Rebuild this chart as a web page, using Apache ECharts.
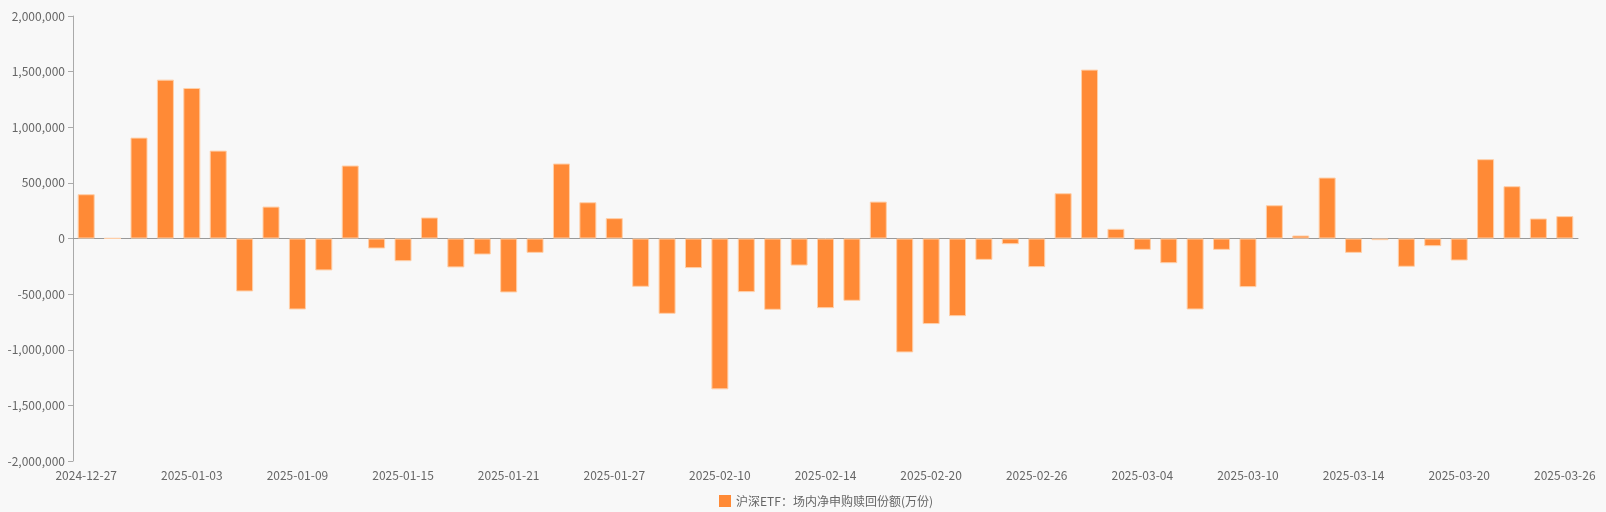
<!DOCTYPE html>
<html>
<head>
<meta charset="utf-8">
<script src="https://cdn.jsdelivr.net/npm/echarts@6/dist/echarts.min.js"></script>
<style>
html,body{margin:0;padding:0;background:#f8f8f8;}
#chart{width:1606px;height:512px;}
</style>
</head>
<body>
<div id="chart"></div>
<script>
const categories = ["2024-12-27","2024-12-30","2024-12-31","2025-01-02","2025-01-03","2025-01-06","2025-01-07","2025-01-08","2025-01-09","2025-01-10","2025-01-13","2025-01-14","2025-01-15","2025-01-16","2025-01-17","2025-01-20","2025-01-21","2025-01-22","2025-01-23","2025-01-24","2025-01-27","2025-02-05","2025-02-06","2025-02-07","2025-02-10","2025-02-11","2025-02-12","2025-02-13","2025-02-14","2025-02-17","2025-02-18","2025-02-19","2025-02-20","2025-02-21","2025-02-24","2025-02-25","2025-02-26","2025-02-27","2025-02-28","2025-03-03","2025-03-04","2025-03-05","2025-03-06","2025-03-07","2025-03-10","2025-03-11","2025-03-12","2025-03-13","2025-03-14","2025-03-17","2025-03-18","2025-03-19","2025-03-20","2025-03-21","2025-03-24","2025-03-25","2025-03-26"];
const seriesName = "沪深ETF：场内净申购赎回份额(万份)";
const values = [398000,2000,907000,1428000,1353000,790000,-476000,287000,-638000,-287000,656000,-90000,-204000,189000,-260000,-144000,-485000,-129000,674000,326000,183000,-434000,-677000,-266000,-1356000,-482000,-641000,-243000,-626000,-560000,332000,-1024000,-769000,-698000,-192000,-51000,-257000,407000,1518000,87000,-102000,-222000,-638000,-102000,-437000,299000,27000,548000,-129000,-15000,-254000,-69000,-198000,713000,470000,180000,201000];
const yMin = -2000000, yMax = 2000000, yInterval = 500000;

const font = '"Noto Sans CJK SC","Noto Sans",sans-serif';
const chart = echarts.init(document.getElementById('chart'), null, {renderer:'canvas'});
chart.setOption({
  backgroundColor: '#f8f8f8',
  animation: false,
  textStyle: {fontFamily: font},
  grid: {left: 73, right: 28, top: 16, bottom: 51, containLabel: false},
  legend: {
    data: [seriesName],
    bottom: 0,
    left: 714,
    itemWidth: 12, itemHeight: 12, itemGap: 10,
    icon: 'rect',
    itemStyle: {borderWidth: 0, color: '#ff8a36'},
    textStyle: {color: '#666', fontSize: 12, fontFamily: font}
  },
  xAxis: [{
    type: 'category',
    data: categories,
    position: 'bottom',
    axisLine: {onZero: true, lineStyle: {color: '#999'}},
    axisTick: {alignWithLabel: true, interval: 3, length: 5, lineStyle: {color: '#999'}},
    axisLabel: {show: false},
    splitLine: {show: false}
  }, {
    type: 'category',
    data: categories,
    position: 'bottom',
    axisLine: {show: false, onZero: false},
    axisTick: {show: false},
    axisLabel: {interval: 3, color: '#666', fontSize: 12, margin: 8, fontFamily: font},
    splitLine: {show: false}
  }],
  yAxis: {
    type: 'value',
    min: yMin, max: yMax, interval: yInterval,
    axisLine: {show: true, lineStyle: {color: '#aaa'}},
    axisTick: {show: true, length: 5, lineStyle: {color: '#aaa'}},
    axisLabel: {color: '#666', fontSize: 12, fontFamily: font,
      formatter: v => v.toLocaleString('en-US')},
    splitLine: {show: false}
  },
  series: [{
    name: seriesName,
    type: 'bar',
    xAxisIndex: 0,
    data: values,
    barWidth: 17,
    itemStyle: {color: '#ff8a36', borderColor: '#ffcfa8', borderWidth: 1}
  }]
});
</script>
</body>
</html>
